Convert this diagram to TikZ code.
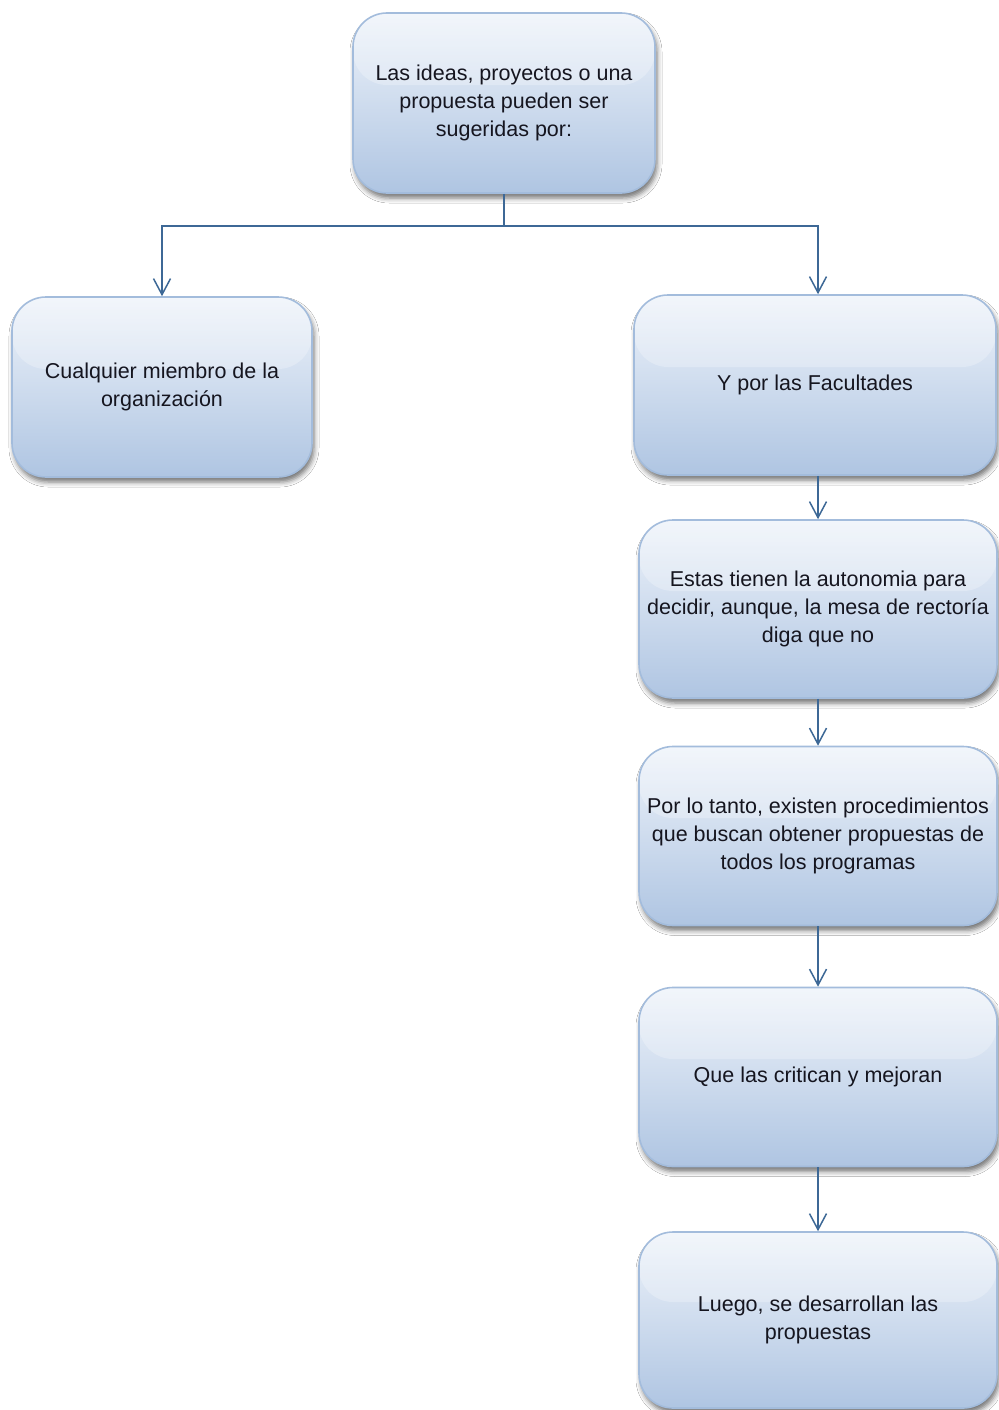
\documentclass[tikz,border=0pt]{standalone}
\usepackage{fontspec}
\setmainfont{Liberation Sans}
\usetikzlibrary{arrows.meta,shadows.blur}

\definecolor{cardtop}{HTML}{EEF3FA}
\definecolor{cardmid}{HTML}{CFDCEE}
\definecolor{cardbot}{HTML}{AFC5E2}
\definecolor{cardedge}{HTML}{A3BCDC}
\definecolor{linkblue}{HTML}{3D6896}
\definecolor{inktext}{HTML}{15151F}

\tikzset{
  card/.style={
    rectangle, rounded corners=34pt,
    draw=cardedge, line width=1.6pt,
    top color=cardtop, middle color=cardmid, bottom color=cardbot,
    blur shadow={shadow xshift=2pt, shadow yshift=-5pt,
                 shadow blur radius=5pt, shadow opacity=55},
    path picture={
      \fill[white, opacity=0.25]
        (path picture bounding box.north west) rectangle
        ([yshift=18pt]path picture bounding box.east);
    },
    inner sep=0pt, align=center, text=inktext,
    font=\fontsize{21.5}{28}\selectfont
  },
  link/.style={draw=linkblue, line width=1.6pt,
    -{Straight Barb[length=16pt,width=17pt,line width=1.5pt]}},
  stem/.style={draw=linkblue, line width=1.6pt}
}

\begin{document}
\begin{tikzpicture}[x=1pt,y=-1pt]
  \useasboundingbox[fill=white] (0,0) rectangle (998,1410);

  % source box
  \node[card, minimum width=302pt, minimum height=180pt] (top) at (504,103)
    {Las ideas, proyectos o una\\propuesta pueden ser\\sugeridas por:};

  % the two branches
  \node[card, minimum width=300pt, minimum height=180pt] (miembro) at (162,387)
    {Cualquier miembro de la\\organización};
  \node[card, minimum width=362pt, minimum height=180pt] (facultades) at (815,385)
    {Y por las Facultades};

  % chain below the faculties
  \node[card, minimum width=358pt, minimum height=178pt] (autonomia) at (818,609)
    {Estas tienen la autonomia para\\decidir, aunque, la mesa de rectoría\\diga que no};
  \node[card, minimum width=358pt, minimum height=179pt] (proced) at (818,836)
    {Por lo tanto, existen procedimientos\\que buscan obtener propuestas de\\todos los programas};
  \node[card, minimum width=358pt, minimum height=179pt] (critica) at (818,1077)
    {Que las critican y mejoran};
  \node[card, minimum width=358pt, minimum height=176pt] (desarrollo) at (818,1320)
    {Luego, se desarrollan las\\propuestas};

  % branching connector
  \coordinate (split) at (504,226);
  \draw[stem] (top.south) -- (split);
  \draw[link] (split) -| (miembro.north);
  \draw[link] (split) -| ([xshift=3pt]facultades.north);

  % vertical chain
  \draw[link] ([xshift=3pt]facultades.south) -- (autonomia.north);
  \draw[link] (autonomia.south) -- (proced.north);
  \draw[link] (proced.south) -- (critica.north);
  \draw[link] (critica.south) -- (desarrollo.north);
\end{tikzpicture}
\end{document}
